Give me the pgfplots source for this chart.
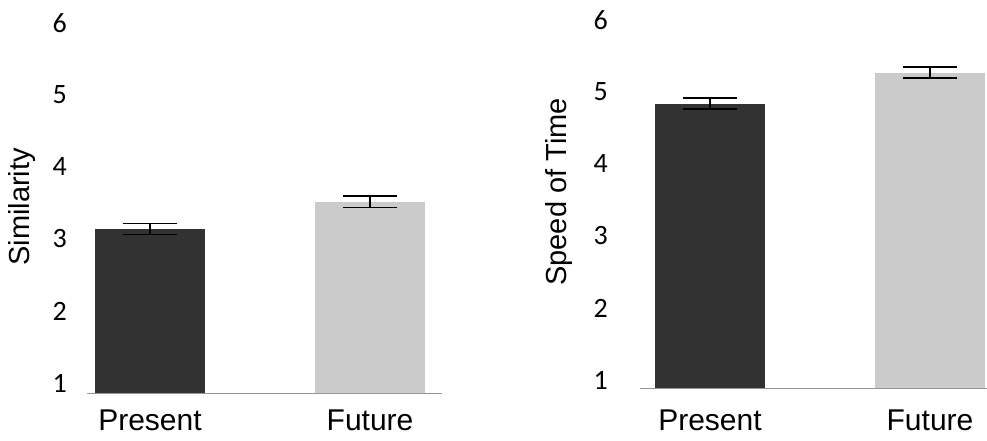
\documentclass[border=0pt]{standalone}
\usepackage{fontspec}
\setmainfont{Liberation Sans}
\newfontfamily\tickfont{Carlito}
\usepackage{pgfplots}
\pgfplotsset{compat=1.18}
\definecolor{darkbar}{RGB}{50,50,50}
\definecolor{lightbar}{RGB}{203,203,203}
\definecolor{baseline}{RGB}{150,150,150}
\pgfplotsset{
  twobars/.style={
    scale only axis,
    anchor=south west,
    axis x line=bottom,
    axis y line=left,
    axis line style={-, draw=baseline, line width=1pt},
    y axis line style={draw=none},
    major tick length=0pt,
    ymax=6,
    ytick={1,2,3,4,5,6},
    xtick={0,1},
    xticklabels={Present,Future},
    /pgf/number format/assume math mode=true,
    yticklabel style={font=\tickfont\fontsize{28}{28}\selectfont, anchor=east, inner sep=0pt},
    xticklabel style={font=\fontsize{30}{34}\selectfont, anchor=base},
    ylabel style={font=\fontsize{29}{34}\selectfont, rotate=0, anchor=center},
    clip=true,
  },
  bar/.style={
    ybar, bar width=110pt, bar shift=0pt, draw=none, fill=#1,
    error bars/.cd, y dir=both, y explicit,
    error bar style={black, line width=1.6pt},
    error mark options={black, line width=1.6pt, mark size=27pt, rotate=90},
  },
}
\begin{document}
\begin{tikzpicture}
\useasboundingbox (0,0) rectangle (987pt,440pt);

% left panel
\begin{axis}[twobars,
  at={(87pt,47pt)}, width=355pt, height=370pt,
  xmin=-0.286, xmax=1.327, ymin=0.861,
  yticklabel style={xshift=-20pt},
  xticklabel style={yshift=-37pt},
  ylabel={Similarity},
  ylabel style={at={(axis description cs:-0.183,0.503)}},
]
\addplot[bar=darkbar] coordinates {(0,3.14) +- (0,0.075)};
\addplot[bar=lightbar] coordinates {(1,3.52) +- (0,0.08)};
\end{axis}

% right panel
\begin{axis}[twobars,
  at={(640pt,52pt)}, width=347pt, height=368pt,
  xmin=-0.318, xmax=1.259, ymin=0.889,
  yticklabel style={xshift=-32pt},
  xticklabel style={yshift=-42pt},
  ylabel={Speed of Time},
  ylabel style={at={(axis description cs:-0.233,0.533)}},
]
\addplot[bar=darkbar] coordinates {(0,4.84) +- (0,0.08)};
\addplot[bar=lightbar] coordinates {(1,5.27) +- (0,0.075)};
\end{axis}
\end{tikzpicture}
\end{document}
